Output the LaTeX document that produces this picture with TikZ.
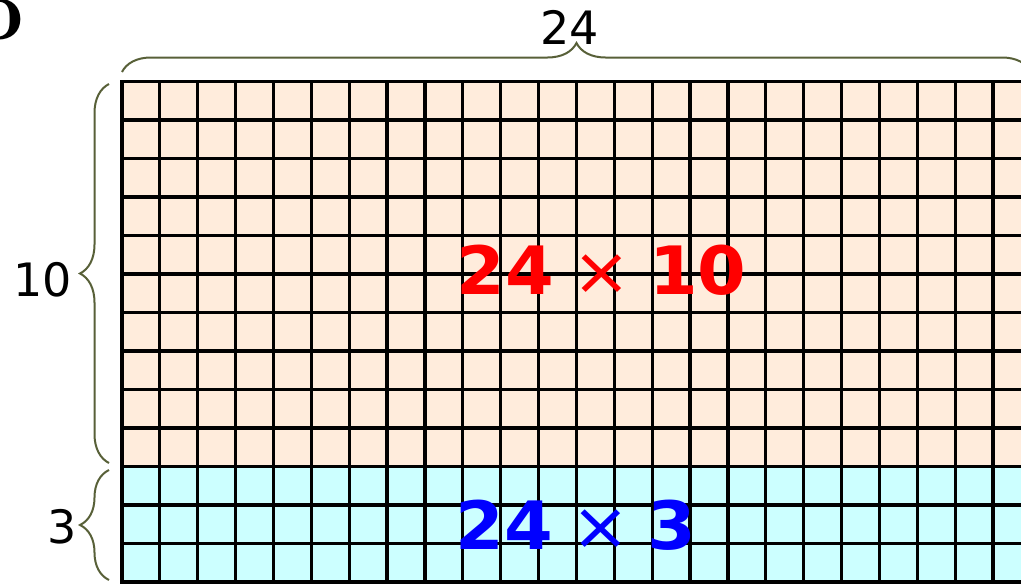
\documentclass[tikz,border=0pt]{standalone}
\usepackage{fontspec}
\newfontfamily\labfont{DejaVu Sans}
\usetikzlibrary{decorations.pathreplacing}
\definecolor{orangecell}{RGB}{255,236,220}
\definecolor{bluecell}{RGB}{204,255,255}
\definecolor{braceolive}{RGB}{88,96,56}
\newcommand{\tms}{\hspace{13pt}{\mdseries ×}\hspace{13pt}}
\tikzset{
  gridline/.style={draw=black, line width=2.4pt, line cap=rect},
  bracestyle/.style={draw=braceolive, line width=1.5pt,
    decorate, decoration={brace, amplitude=21.75pt}},
  dimlabel/.style={inner sep=0pt, font=\labfont\fontsize{34.5}{40}\selectfont},
  bigred/.style={inner sep=0pt, text=red, font=\labfont\bfseries\fontsize{50}{60}\selectfont},
  bigblue/.style={inner sep=0pt, text=blue, font=\labfont\bfseries\fontsize{50}{60}\selectfont},
}
\begin{document}
\begin{tikzpicture}[x=0.75pt,y=-0.75pt]
\useasboundingbox (0,0) rectangle (1021,586);
\clip (0,0) rectangle (1021,586);
% fills
\fill[orangecell] (122,81.5) rectangle (1031,466.5);
\fill[bluecell] (122,466.5) rectangle (1031,582);
% grid
\foreach \i in {0,...,24} \draw[gridline] ({122+37.87*\i},81.5) -- ({122+37.87*\i},582);
\foreach \j in {0,...,13} \draw[gridline] (122,{81.5+38.5*\j}) -- (1031,{81.5+38.5*\j});
% braces
\coordinate (tl) at (122,72);
\coordinate (tr) at (1031,72);
\coordinate (ltop) at (109,84);
\coordinate (lbot) at (109,463);
\coordinate (btop) at (109,470);
\coordinate (bbot) at (109,580);
\draw[bracestyle] (tl) -- (tr);
\draw[bracestyle] (lbot) -- (ltop);
\draw[bracestyle] (bbot) -- (btop);
% labels
\node[dimlabel] (w) at (570,27) {24};
\node[dimlabel] (h1) at (43,280) {10};
\node[dimlabel] (h2) at (62,527) {3};
\node[bigred] (a1) at (601.5,270) {\scalebox{1.05}[1]{24\tms10}};
\node[bigblue] (a2) at (576,525) {\scalebox{1.05}[1]{24\tms3}};
\node[inner sep=0pt, anchor=base east, font=\bfseries\fontsize{67}{70}\selectfont] (lab) at (25,39) {b};
\end{tikzpicture}
\end{document}
